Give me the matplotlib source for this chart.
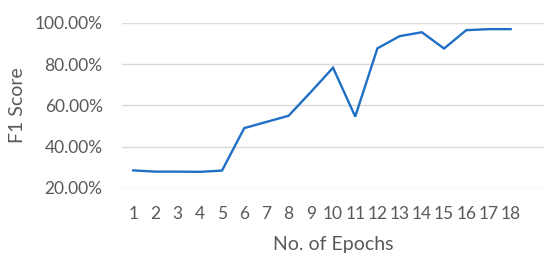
import matplotlib
matplotlib.use("Agg")
import matplotlib.pyplot as plt
from matplotlib.ticker import FuncFormatter

# data
epochs = list(range(1, 19))
f1_score = [28.5, 27.9, 27.9, 27.8, 28.4, 49.0, 52.0, 55.0, 66.5, 78.3,
            54.6, 87.7, 93.6, 95.5, 87.6, 96.5, 97.0, 97.0]

grey = '#595959'
plt.rcParams['font.family'] = ['Lato', 'DejaVu Sans']

fig = plt.figure(figsize=(5.5, 2.61), dpi=100)
ax = fig.add_axes([0.222, 0.280, 0.767, 0.632])

ax.plot(epochs, [v / 100 for v in f1_score], color='#1F6FC5', lw=1.7,
        solid_joinstyle='miter', zorder=3)

ax.set_xlim(0.5, 19.5)
ax.set_ylim(0.2, 1.0)
ax.set_xticks(epochs)
ax.set_yticks([0.2, 0.4, 0.6, 0.8, 1.0])
ax.yaxis.set_major_formatter(FuncFormatter(lambda v, p: f'{v*100:.2f}%'))
ax.grid(axis='y', color='#D9D9D9', lw=1.0)
ax.set_axisbelow(True)
for s in ax.spines.values():
    s.set_visible(False)
ax.tick_params(length=0, labelsize=12.5, colors=grey)
ax.tick_params(axis='x', pad=13)
ax.tick_params(axis='y', pad=14)

ax.set_xlabel('No. of Epochs', fontsize=14, color=grey, labelpad=10)
ax.set_ylabel('F1 Score', fontsize=14, color=grey, labelpad=6)

fig.savefig('out.png', dpi=100)
